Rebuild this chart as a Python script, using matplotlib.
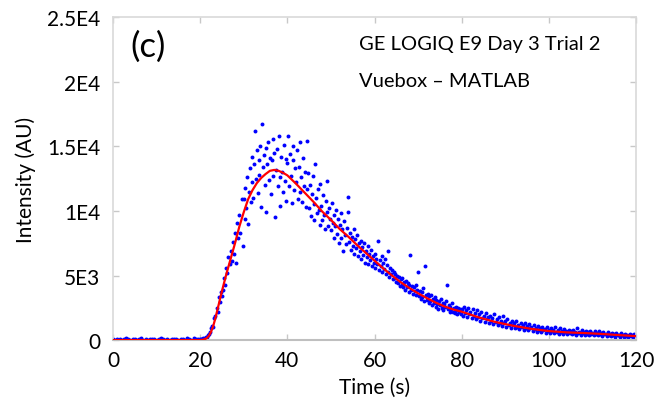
import matplotlib
matplotlib.use("Agg")
import matplotlib.pyplot as plt

plt.rcParams['font.family'] = ['Lato', 'DejaVu Sans']

# --- measured intensity (blue dots) ---
base_t = [0.0, 0.5, 1.0, 1.5, 2.0, 2.5, 3.0, 3.5, 4.0, 4.5,
          5.0, 5.5, 6.0, 6.5, 7.0, 7.5, 8.0, 8.5, 9.0, 9.5,
          10.0, 10.5, 11.0, 11.5, 12.0, 12.5, 13.0, 13.5, 14.0, 14.5,
          15.0, 15.5, 16.0, 16.5, 17.0, 17.5, 18.0, 18.5, 19.0, 19.5]
base_v = [80, 40, 120, 60, 20, 90, 150, 50, 30, 110,
          70, 10, 60, 130, 40, 90, 20, 80, 50, 100,
          30, 70, 140, 60, 20, 90, 40, 110, 50, 80,
          30, 120, 60, 20, 180, 70, 40, 150, 90, 60]

rise_t = [20.0, 20.25, 20.5, 20.75, 21.0, 21.25, 21.5, 21.75, 22.0, 22.25,
          22.5, 22.75, 23.0, 23.25, 23.5, 23.75, 24.0, 24.25, 24.5, 24.75,
          25.0, 25.25, 25.5, 25.75, 26.0, 26.25, 26.5, 26.75, 27.0, 27.25,
          27.5, 27.75, 28.0, 28.25, 28.5, 28.75, 29.0, 29.25, 29.5, 29.75]
rise_v = [60, 120, 90, 180, 150, 260, 220, 380, 450, 600,
          900, 1100, 1000, 1700, 1900, 2500, 2200, 3300, 2950, 3700,
          3400, 3900, 4800, 4300, 5600, 5200, 6400, 5900, 6900, 6100,
          7600, 6700, 8300, 6000, 9100, 7900, 9700, 8300, 10900, 7300]

peak_t = [30.0, 30.2, 30.4, 30.6, 30.8, 31.0, 31.2, 31.4, 31.6, 31.8,
          32.0, 32.2, 32.4, 32.6, 32.8, 33.0, 33.2, 33.4, 33.6, 33.8,
          34.0, 34.2, 34.4, 34.6, 34.8, 35.0, 35.2, 35.4, 35.6, 35.8,
          36.0, 36.2, 36.4, 36.6, 36.8, 37.0, 37.2, 37.4, 37.6, 37.8,
          38.0, 38.2, 38.4, 38.6, 38.8, 39.0, 39.2, 39.4, 39.6, 39.8,
          40.0, 40.2, 40.4, 40.6, 40.8, 41.0, 41.2, 41.4, 41.6, 41.8,
          42.0, 42.2, 42.4, 42.6, 42.8, 43.0, 43.2, 43.4, 43.6, 43.8,
          44.0, 44.2, 44.4, 44.6, 44.8]
peak_v = [10900, 9400, 11800, 10200, 12600, 9000, 11500, 13300, 10700, 12200,
          14200, 11000, 13600, 16200, 12500, 14700, 11400, 13900, 12800, 15000,
          10300, 16700, 13400, 14300, 12000, 14900, 9900, 13600, 15300, 12400,
          14100, 11300, 13900, 15600, 12700, 14500, 9500, 13200, 14800, 11900,
          15800, 12600, 10400, 14200, 13000, 11500, 15100, 12300, 14000, 10800,
          13700, 15800, 11900, 14400, 12700, 10600, 13900, 15000, 11600, 13300,
          12200, 14700, 10900, 13400, 11500, 15300, 12600, 10700, 14100, 11900,
          13000, 10300, 15400, 11700, 12900]

fall_t = [45.0, 45.2, 45.4, 45.6, 45.8, 46.0, 46.2, 46.4, 46.6, 46.8,
          47.0, 47.2, 47.4, 47.6, 47.8, 48.0, 48.2, 48.4, 48.6, 48.8,
          49.0, 49.2, 49.4, 49.6, 49.8, 50.0, 50.2, 50.4, 50.6, 50.8,
          51.0, 51.2, 51.4, 51.6, 51.8, 52.0, 52.2, 52.4, 52.6, 52.8,
          53.0, 53.2, 53.4, 53.6, 53.8, 54.0, 54.2, 54.4, 54.6, 54.8,
          55.0, 55.2, 55.4, 55.6, 55.8, 56.0, 56.2, 56.4, 56.6, 56.8,
          57.0, 57.2, 57.4, 57.6, 57.8, 58.0, 58.2, 58.4, 58.6, 58.8,
          59.0, 59.2, 59.4, 59.6, 59.8]
fall_v = [10200, 12000, 9600, 11300, 12700, 10500, 9300, 13600, 11000, 9800,
          11700, 10100, 8900, 12100, 10400, 9300, 11200, 9700, 8600, 10800,
          9900, 12300, 8800, 10200, 9400, 8500, 10600, 9100, 7900, 9700,
          8800, 10100, 8200, 9400, 7500, 8900, 9800, 7900, 8600, 6900,
          9200, 8100, 7400, 8700, 9900, 11100, 7600, 8300, 7000, 8000,
          7300, 8600, 6700, 7800, 7100, 8100, 6500, 7500, 6900, 7700,
          6300, 7200, 6600, 7500, 6000, 6900, 6400, 7300, 5900, 6700,
          6200, 7000, 5700, 6500, 6000]

decay_t = [60.0, 60.2, 60.4, 60.6, 60.8, 61.0, 61.2, 61.4, 61.6, 61.8,
           62.0, 62.2, 62.4, 62.6, 62.8, 63.0, 63.2, 63.4, 63.6, 63.8,
           64.0, 64.2, 64.4, 64.6, 64.8, 65.0, 65.2, 65.4, 65.6, 65.8,
           66.0, 66.2, 66.4, 66.6, 66.8, 67.0, 67.2, 67.4, 67.6, 67.8,
           68.0, 68.2, 68.4, 68.6, 68.8, 69.0, 69.2, 69.4, 69.6, 69.8,
           70.0, 70.2, 70.4, 70.6, 70.8, 71.0, 71.2, 71.4, 71.6, 71.8,
           72.0, 72.2, 72.4, 72.6, 72.8, 73.0, 73.2, 73.4, 73.6, 73.8,
           74.0, 74.2, 74.4, 74.6, 74.8, 75.0, 75.2, 75.4, 75.6, 75.8,
           76.0, 76.2, 76.4, 76.6, 76.8, 77.0, 77.2, 77.4, 77.6, 77.8,
           78.0, 78.2, 78.4, 78.6, 78.8, 79.0, 79.2, 79.4, 79.6, 79.8]
decay_v = [6700, 5600, 6300, 5900, 7700, 5400, 6200, 5700, 6500, 5300,
           6000, 5500, 6300, 5100, 5800, 5300, 6900, 4900, 5600, 5100,
           5400, 4700, 5300, 4800, 5100, 4500, 5000, 4400, 4900, 4200,
           4700, 4300, 4800, 4100, 4500, 3900, 4600, 4100, 4400, 3700,
           4300, 6600, 3900, 4200, 3600, 4100, 3800, 4300, 3500, 3900,
           5300, 3400, 3800, 3200, 3700, 3300, 4000, 3000, 5700, 3500,
           3100, 3600, 2900, 3400, 3000, 3500, 2700, 3200, 2900, 3300,
           2600, 3100, 2800, 2400, 3000, 2700, 3200, 2500, 2900, 2300,
           2800, 2600, 3000, 4300, 2400, 2700, 2200, 2600, 2400, 2900,
           2200, 2500, 2100, 2600, 2300, 2000, 2500, 2200, 2400, 2000]

tail_t = [80.0, 80.25, 80.5, 80.75, 81.0, 81.25, 81.5, 81.75, 82.0, 82.25,
          82.5, 82.75, 83.0, 83.25, 83.5, 83.75, 84.0, 84.25, 84.5, 84.75,
          85.0, 85.25, 85.5, 85.75, 86.0, 86.25, 86.5, 86.75, 87.0, 87.25,
          87.5, 87.75, 88.0, 88.25, 88.5, 88.75, 89.0, 89.25, 89.5, 89.75,
          90.0, 90.25, 90.5, 90.75, 91.0, 91.25, 91.5, 91.75, 92.0, 92.25,
          92.5, 92.75, 93.0, 93.25, 93.5, 93.75, 94.0, 94.25, 94.5, 94.75,
          95.0, 95.25, 95.5, 95.75, 96.0, 96.25, 96.5, 96.75, 97.0, 97.25,
          97.5, 97.75, 98.0, 98.25, 98.5, 98.75, 99.0, 99.25, 99.5, 99.75,
          100.0, 100.25, 100.5, 100.75, 101.0, 101.25, 101.5, 101.75, 102.0, 102.25,
          102.5, 102.75, 103.0, 103.25, 103.5, 103.75, 104.0, 104.25, 104.5, 104.75,
          105.0, 105.25, 105.5, 105.75, 106.0, 106.25, 106.5, 106.75, 107.0, 107.25,
          107.5, 107.75, 108.0, 108.25, 108.5, 108.75, 109.0, 109.25, 109.5, 109.75,
          110.0, 110.25, 110.5, 110.75, 111.0, 111.25, 111.5, 111.75, 112.0, 112.25,
          112.5, 112.75, 113.0, 113.25, 113.5, 113.75, 114.0, 114.25, 114.5, 114.75,
          115.0, 115.25, 115.5, 115.75, 116.0, 116.25, 116.5, 116.75, 117.0, 117.25,
          117.5, 117.75, 118.0, 118.25, 118.5, 118.75, 119.0, 119.25, 119.5, 119.75]
tail_v = [2400, 1900, 2600, 2100, 2300, 1800, 2500, 2000, 2200, 1700,
          2400, 1900, 2100, 1600, 2300, 1800, 2000, 1500, 2200, 1700,
          1900, 1400, 2100, 1600, 1800, 1300, 1900, 1500, 1700, 1250,
          2000, 1400, 1600, 1200, 1800, 1350, 1500, 1100, 1900, 1300,
          1450, 1050, 1650, 1200, 1350, 950, 1500, 1150, 1300, 900,
          1450, 1050, 1200, 850, 1350, 1000, 1150, 800, 1300, 950,
          1100, 750, 1250, 900, 1000, 700, 1200, 850, 950, 650,
          1100, 800, 900, 600, 1050, 750, 850, 580, 1000, 700,
          820, 550, 950, 680, 780, 520, 1000, 650, 750, 500,
          900, 620, 720, 480, 850, 600, 700, 460, 820, 580,
          680, 450, 800, 560, 660, 430, 900, 540, 640, 420,
          760, 530, 620, 400, 740, 510, 600, 390, 720, 500,
          580, 380, 700, 480, 560, 360, 680, 460, 540, 340,
          650, 440, 510, 320, 620, 420, 480, 300, 580, 400,
          450, 280, 550, 380, 430, 260, 520, 360, 400, 250,
          500, 340, 380, 240, 470, 320, 360, 220, 440, 300]

# --- fitted curve (red line) ---
fit_t = [0, 10, 19, 20, 20.5, 21, 21.5, 22, 22.5, 23, 23.5, 24, 25, 26, 27, 28,
         29, 30, 31, 32, 33, 34, 35, 36, 37, 38, 39, 40, 42, 44, 46, 48, 50,
         52, 54, 56, 58, 60, 62, 64, 66, 68, 70, 72, 74, 76, 78, 80, 84, 88,
         92, 96, 100, 104, 108, 112, 116, 120]
fit_v = [0, 0, 0, 0, 20, 60, 150, 330, 650, 1100, 1700, 2400, 3800, 5100, 6300,
         7500, 8800, 9900, 10900, 11600, 12150, 12550, 12850, 13100, 13170,
         13100, 12950, 12750, 12100, 11400, 10700, 9950, 9300, 8600, 8000, 7350,
         6750, 6150, 5550, 5000, 4480, 4030, 3620, 3250, 2910, 2610, 2380, 2200,
         1750, 1380, 1100, 870, 700, 600, 550, 480, 390, 310]

x_ticks = [0, 20, 40, 60, 80, 100, 120]
y_ticks = [0, 5000, 10000, 15000, 20000, 25000]
y_ticklabels = ['0', '5E3', '1E4', '1.5E4', '2E4', '2.5E4']

fig = plt.figure(figsize=(6.58, 4.10), dpi=100)
ax = fig.add_axes([0.1717, 0.168, 0.795, 0.788])

for t, v in [(base_t, base_v), (rise_t, rise_v), (peak_t, peak_v),
             (fall_t, fall_v), (decay_t, decay_v), (tail_t, tail_v)]:
    ax.scatter(t, v, s=8, color='#0000ff', linewidths=0, zorder=2)

ax.plot(fit_t, fit_v, color='#ff0000', lw=1.6, zorder=3)

ax.set_xlim(0, 120)
ax.set_ylim(0, 25000)
ax.set_xticks(x_ticks)
ax.set_xticklabels([str(x) for x in x_ticks])
ax.set_yticks(y_ticks)
ax.set_yticklabels(y_ticklabels)

for side in ['left', 'top', 'right']:
    ax.spines[side].set_color('#d9d9d9')
    ax.spines[side].set_linewidth(1.2)
ax.spines['bottom'].set_color('#bfbfbf')
ax.spines['bottom'].set_linewidth(1.5)

ax.tick_params(direction='in', length=4, width=1, color='#c8c8c8',
               top=True, right=True, labelsize=15, labelcolor='black')
ax.tick_params(axis='y', pad=9)
ax.tick_params(axis='x', pad=7)

ax.set_xlabel('Time (s)', fontsize=15, labelpad=5)
ax.set_ylabel('Intensity (AU)', fontsize=15, labelpad=8)

ax.text(0.033, 0.96, '(c)', transform=ax.transAxes, fontsize=25,
        va='top', ha='left')
ax.text(0.47, 0.945, 'GE LOGIQ E9 Day 3 Trial 2', transform=ax.transAxes,
        fontsize=14.5, va='top', ha='left')
ax.text(0.47, 0.83, 'Vuebox \u2013 MATLAB', transform=ax.transAxes,
        fontsize=14.5, va='top', ha='left')

fig.savefig('out.png', dpi=100)
